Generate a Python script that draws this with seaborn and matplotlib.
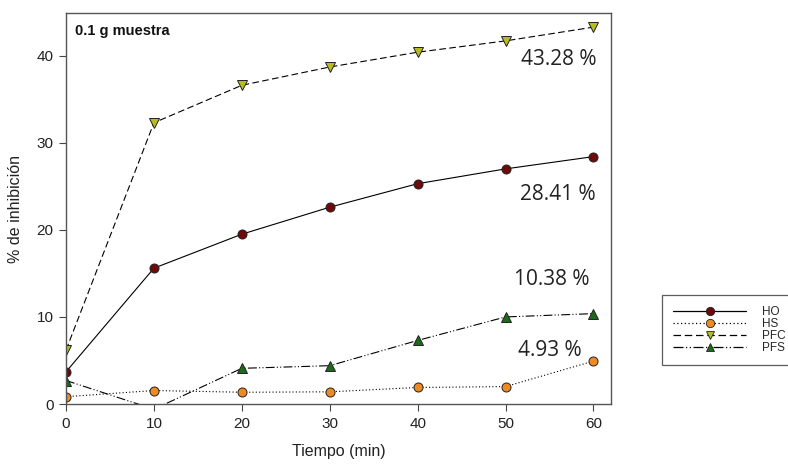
import matplotlib
matplotlib.use("Agg")
import matplotlib.pyplot as plt
import seaborn as sns
import pandas as pd
from matplotlib.lines import Line2D

tiempo = [0, 10, 20, 30, 40, 50, 60]
ho = [3.7, 15.6, 19.5, 22.6, 25.3, 27.0, 28.41]
hs = [0.84, 1.55, 1.35, 1.4, 1.9, 2.0, 4.93]
pfc = [6.2, 32.3, 36.6, 38.7, 40.4, 41.7, 43.28]
pfs = [2.7, -0.6, 4.1, 4.4, 7.3, 10.0, 10.38]
series_names = ["HO", "HS", "PFC", "PFS"]
final_labels = ["28.41 %", "4.93 %", "43.28 %", "10.38 %"]

sns.set_theme(style="white")
plt.rcParams['font.family'] = ['Liberation Sans', 'DejaVu Sans']

fig = plt.figure(figsize=(7.88, 4.70), dpi=100)
ax = fig.add_axes([0.0838, 0.1404, 0.6916, 0.8319])

styles = {
    "HO": dict(ls="-", marker="o", mfc="#6e0a0a", ms=6.5),
    "HS": dict(ls=(0, (1, 2)), marker="o", mfc="#ee8a22", ms=6.5),
    "PFC": dict(ls=(0, (6, 3)), marker="v", mfc="#b8bd1e", ms=7),
    "PFS": dict(ls=(0, (8, 2, 1, 2, 1, 2)), marker="^", mfc="#1c6b1c", ms=7),
}
data = {"HO": ho, "HS": hs, "PFC": pfc, "PFS": pfs}

for name in series_names:
    st = styles[name]
    df = pd.DataFrame({"t": tiempo, "v": data[name]})
    sns.lineplot(data=df, x="t", y="v", ax=ax, color="black", lw=0.8,
                 linestyle=st["ls"], marker=st["marker"], markersize=st["ms"],
                 markerfacecolor=st["mfc"], markeredgecolor="#222222",
                 markeredgewidth=0.7, clip_on=True)

ax.set_xlim(0, 62)
ax.set_ylim(0, 44.9)
ax.set_xticks([0, 10, 20, 30, 40, 50, 60])
ax.set_yticks([0, 10, 20, 30, 40])
ax.tick_params(axis="both", direction="out", length=5, width=0.8, color="#444444",
               labelsize=11, labelcolor="#222222", bottom=True, left=True, pad=4)
for sp in ax.spines.values():
    sp.set_color("#555555")
    sp.set_linewidth(1.0)

ax.set_xlabel("Tiempo (min)", fontsize=11.5, color="#222222", labelpad=10)
ax.set_ylabel("% de inhibición", fontsize=11.5, color="#222222", labelpad=10)

ax.text(0.016, 0.972, "0.1 g muestra", transform=ax.transAxes, fontsize=10.5,
        fontweight="bold", va="top", ha="left", color="#111111")

ann_pos = {"PFC": (60.4, 38.3), "HO": (60.3, 22.9), "PFS": (59.6, 13.1), "HS": (58.7, 4.9)}
for name, lab in zip(series_names, final_labels):
    x, y = ann_pos[name]
    ax.text(x, y, lab, fontsize=15, ha="right", va="bottom", color="#222222",
            family=["Open Sans", "DejaVu Sans"])

handles = []
for name in series_names:
    st = styles[name]
    handles.append(Line2D([0], [0], color="black", lw=0.9, linestyle=st["ls"],
                          marker=st["marker"], markersize=6, markerfacecolor=st["mfc"],
                          markeredgecolor="#222222", markeredgewidth=0.6))
leg = fig.legend(handles, series_names, loc="upper left",
                 bbox_to_anchor=(662 / 788, 1 - 295 / 470), fontsize=8.5,
                 frameon=True, fancybox=False, edgecolor="#333333",
                 handlelength=6.2, labelspacing=0.0, borderpad=0.95,
                 handletextpad=1.3, borderaxespad=0)
leg.get_frame().set_linewidth(0.9)

fig.savefig("out.png", dpi=100)
